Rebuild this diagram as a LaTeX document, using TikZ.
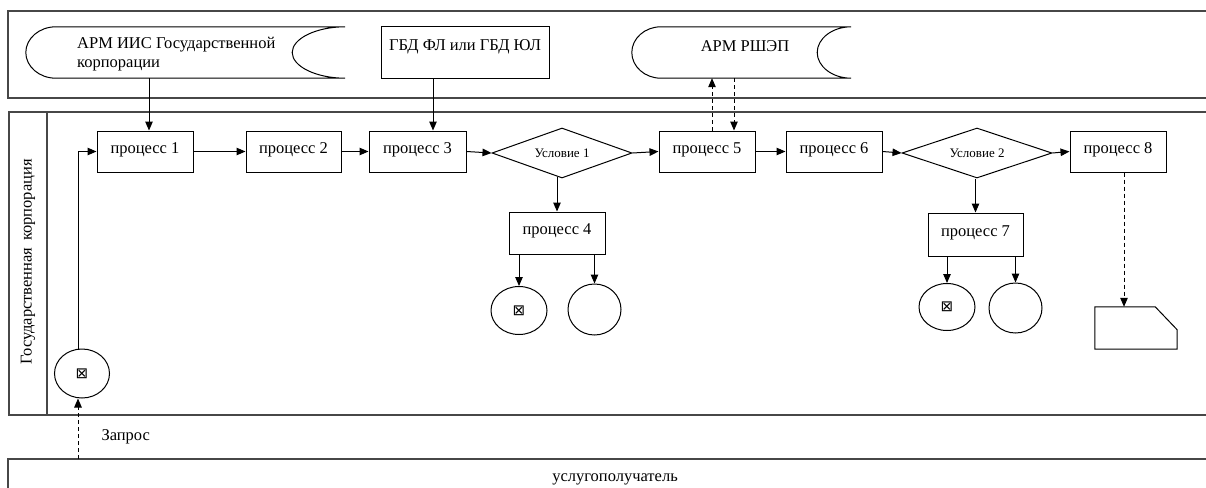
\documentclass[tikz,border=0pt]{standalone}
\usepackage{fontspec}
\setmainfont{Liberation Serif}
\newfontfamily\symfont{DejaVu Sans}
\usetikzlibrary{arrows.meta,shapes.geometric}
\begin{document}
\begin{tikzpicture}[x=1pt,y=-1pt,
  font=\fontsize{16.5}{19.5}\selectfont,
  pool/.style={draw=black!72, line width=1.4pt},
  frame/.style={minimum width=#1, inner sep=0pt, minimum height=51pt},
  proc/.style={draw, line width=1pt, minimum width=96pt, minimum height=41pt, inner sep=0pt, text height=11pt, text depth=8pt},
  cond/.style={draw, diamond, line width=1pt, minimum width=#1, minimum height=50pt, inner sep=0pt, aspect=2.8, font=\fontsize{13}{15}\selectfont},
  endev/.style={draw, ellipse, line width=1pt, inner sep=0pt, font=\symfont\fontsize{15}{17}\selectfont},
  arr/.style={-{Triangle[length=9pt,width=7.5pt]}, line width=1pt},
  dsh/.style={dash pattern=on 4pt off 3pt},
  outl/.style={line width=1pt},
]
\useasboundingbox (0,0) rectangle (1206,487);
\clip (0,0) rectangle (1206,487);

% pools
\draw[pool] (1230,11) -- (8,11) -- (8,98) -- (1230,98);
\draw[pool] (1230,112) -- (9,112) -- (9,415) -- (1230,415);
\draw[pool] (47,112) -- (47,415);
\draw[pool] (1230,459) -- (8,459) -- (8,500);

\node[rotate=90] (lane) at (28,262) {Государственная\hspace{0.4em}корпорация};

% top systems
\node[frame=319pt] (arm1) at (185.5,52.5) {};
\draw[outl] ([xshift=30pt]arm1.north west) -- (arm1.north east)
  .. controls +(-29,0) and +(0,-14) .. ([xshift=-53pt]arm1.east)
  .. controls +(0,14) and +(-29,0) .. (arm1.south east)
  -- ([xshift=30pt]arm1.south west)
  .. controls +(-16.6,0) and +(0,14) .. (arm1.west)
  .. controls +(0,-14) and +(-16.6,0) .. ([xshift=30pt]arm1.north west) -- cycle;
\node[anchor=west, align=left, inner sep=0pt] (arm1t) at (77,54) {АРМ ИИС Государственной\\корпорации};

\node[draw, outl, minimum width=168pt, minimum height=51pt, inner sep=0pt, text height=11pt, text depth=15pt] (gbd) at (465,52.5) {ГБД ФЛ или ГБД ЮЛ};

\node[frame=219pt] (arm2) at (741.5,52.5) {};
\draw[outl] ([xshift=29pt]arm2.north west) -- (arm2.north east)
  .. controls +(-18.8,0) and +(0,-14) .. ([xshift=-34pt]arm2.east)
  .. controls +(0,14) and +(-18.8,0) .. (arm2.south east)
  -- ([xshift=29pt]arm2.south west)
  .. controls +(-16,0) and +(0,14) .. (arm2.west)
  .. controls +(0,-14) and +(-16,0) .. ([xshift=29pt]arm2.north west) -- cycle;
\node (arm2t) at (745,46) {АРМ РШЭП};

% processes
\node[proc] (p1) at (145,151.5) {процесс 1};
\node[proc, minimum width=95pt] (p2) at (293.5,151.5) {процесс 2};
\node[proc, minimum width=97pt] (p3) at (417.5,151.5) {процесс 3};
\node[cond=140pt] (d1) at (562,153) {Условие 1};
\node[proc] (p5) at (707,151.5) {процесс 5};
\node[proc] (p6) at (834,151.5) {процесс 6};
\node[cond=150pt] (d2) at (977,153) {Условие 2};
\node[proc] (p8) at (1118,151.5) {процесс 8};
\node[proc, minimum height=42pt] (p4) at (557,233) {процесс 4};
\node[proc, minimum width=95pt, minimum height=43pt] (p7) at (975.5,234.5) {процесс 7};

% events
\node[endev, minimum width=55pt, minimum height=49pt] (s) at (82,373.5) {⊠};
\node[endev, minimum width=56pt, minimum height=48pt] (c1) at (519,310.5) {⊠};
\node[endev, minimum width=53pt, minimum height=51pt] (c2) at (594.5,309.5) {};
\node[endev, minimum width=56pt, minimum height=47pt] (c3) at (947,307) {⊠};
\node[endev, minimum width=53pt, minimum height=50pt] (c4) at (1015.5,308) {};

% document
\node[minimum width=82pt, minimum height=42pt, inner sep=0pt] (doc) at (1136,328) {};
\draw[outl] (doc.south west) -- (doc.north west) -- ([xshift=-22pt]doc.north east)
  -- ([yshift=-23pt]doc.north east) -- (doc.south east) -- cycle;

% client
\coordinate (q) at (78,459);
\node (client) at (615,479) {услугополучатель};
\node[anchor=west] (req) at (98,437) {Запрос};

% connectors
\draw[arr] ([xshift=4pt]p1.north |- arm1.south) -- ([xshift=4pt]p1.north);
\draw[arr] ([xshift=15.5pt]p3.north |- gbd.south) -- ([xshift=15.5pt]p3.north);
\draw[arr,dsh] ([xshift=5pt]p5.north) -- ([xshift=5pt]p5.north |- arm2.south);
\draw[arr,dsh] ([xshift=27pt]p5.north |- arm2.south) -- ([xshift=27pt]p5.north);

\draw[arr] (p1.east) -- (p2.west);
\draw[arr] (p2.east) -- (p3.west);
\draw[arr] (p3.east) -- (d1.west);
\draw[arr] (d1.east) -- (p5.west);
\draw[arr] (p5.east) -- (p6.west);
\draw[arr] (p6.east) -- (d2.west);
\draw[arr] (d2.east) -- (p8.west);

\draw[arr] ([yshift=2pt]p4.north |- d1.south) -- (p4.north);
\draw[arr] (p7.north |- d2.south) -- (p7.north);
\draw[arr] (c1.north |- p4.south) -- (c1.north);
\draw[arr] (c2.north |- p4.south) -- (c2.north);
\draw[arr] (c3.north |- p7.south) -- (c3.north);
\draw[arr] (c4.north |- p7.south) -- (c4.north);
\draw[arr,dsh] ([xshift=6pt]p8.south) -- ([xshift=6pt]p8.south |- doc.north);

\draw[arr] ([xshift=-4pt]s.north) |- (p1.west);
\draw[arr,dsh] (q) -- ([xshift=-4pt]s.south);
\end{tikzpicture}
\end{document}
